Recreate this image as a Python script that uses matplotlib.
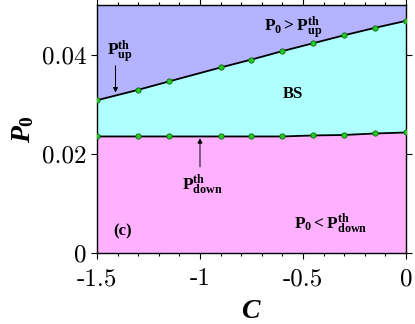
import numpy as np
import matplotlib
matplotlib.use('Agg')
import matplotlib.pyplot as plt
from matplotlib.ticker import MultipleLocator, FixedLocator, FixedFormatter

# custom mathtext fonts: upright bold for annotations, bold italic for axis labels
plt.rcParams['mathtext.fontset'] = 'custom'
plt.rcParams['mathtext.rm'] = 'Liberation Serif:bold'
plt.rcParams['mathtext.bf'] = 'Liberation Serif:bold'
plt.rcParams['mathtext.it'] = 'Liberation Serif:italic:bold'

# data
C = [-1.5, -1.3, -1.15, -0.9, -0.75, -0.6, -0.45, -0.3, -0.15, 0.0]
P_up = [0.0308, 0.0329, 0.0346, 0.0374, 0.0390, 0.0407, 0.0423, 0.0439, 0.0454, 0.0468]
P_down = [0.0235, 0.0235, 0.0235, 0.0235, 0.0235, 0.0235, 0.0237, 0.0238, 0.0241, 0.0243]
xticks = [-1.5, -1.0, -0.5, 0.0]
xticklabels = ['-1.5', '-1', '-0.5', '0']
yticks = [0.0, 0.02, 0.04]
yticklabels = ['0', '0.02', '0.04']
ytop = 0.05

fig = plt.figure(figsize=(4.15, 3.24), dpi=100)
ax = fig.add_axes([0.2337, 0.219, 0.7446, 0.7656])

ax.fill_between(C, 0, P_down, color='#FFB0FF', lw=0)
ax.fill_between(C, P_down, P_up, color='#B0FFFF', lw=0)
ax.fill_between(C, P_up, ytop, color='#B3B3FF', lw=0)

for yy in (P_up, P_down):
    ax.plot(C, yy, '-', color='k', lw=1.3, zorder=3)
    ax.plot(C, yy, 'o', ms=3.8, mfc='#22CC22', mec='#116611', mew=0.6, zorder=4)

ax.set_xlim(-1.5, 0)
ax.set_ylim(0, ytop)

ax.xaxis.set_major_locator(FixedLocator(xticks))
ax.xaxis.set_major_formatter(FixedFormatter(xticklabels))
ax.xaxis.set_minor_locator(MultipleLocator(0.1))
ax.yaxis.set_major_locator(FixedLocator(yticks))
ax.yaxis.set_major_formatter(FixedFormatter(yticklabels))
ax.tick_params(which='both', direction='out', top=True, right=True, width=0.8)
ax.tick_params(which='major', length=4, labelsize=18)
ax.tick_params(which='minor', length=2.5)
ax.tick_params(axis='x', which='major', pad=7)
for lab in ax.get_xticklabels() + ax.get_yticklabels():
    lab.set_fontfamily('cmr10')
for s in ax.spines.values():
    s.set_linewidth(1.0)

ax.set_xlabel(r'$C$', fontsize=20, labelpad=4)
ax.set_ylabel(r'$P_0$', fontsize=20, labelpad=4)

# annotations
ax.annotate('', xy=(-1.41, 0.0318), xytext=(-1.41, 0.0383),
            arrowprops=dict(arrowstyle='-|>', color='k', lw=0.7, mutation_scale=7))
ax.text(-1.39, 0.0405, r'$\mathrm{P}_{\mathrm{up}}^{\mathrm{th}}$', fontsize=12.5,
        ha='center', va='center')
ax.annotate('', xy=(-1.0, 0.0237), xytext=(-1.0, 0.0168),
            arrowprops=dict(arrowstyle='-|>', color='k', lw=0.7, mutation_scale=7))
ax.text(-0.99, 0.0138, r'$\mathrm{P}_{\mathrm{down}}^{\mathrm{th}}$', fontsize=12.5,
        ha='center', va='center')
ax.text(-0.55, 0.0455, r'$\mathrm{P}_{0}>\mathrm{P}_{\mathrm{up}}^{\mathrm{th}}$', fontsize=12.5,
        ha='center', va='center')
ax.text(-0.55, 0.0320, 'BS', fontsize=12, fontweight='bold', family='Liberation Serif',
        ha='center', va='center')
ax.text(-0.365, 0.0058, r'$\mathrm{P}_{0}<\mathrm{P}_{\mathrm{down}}^{\mathrm{th}}$', fontsize=12.5,
        ha='center', va='center')
ax.text(-1.375, 0.0044, '(c)', fontsize=12, fontweight='bold', family='Liberation Serif',
        ha='center', va='center')

fig.savefig('out.png', dpi=100)
